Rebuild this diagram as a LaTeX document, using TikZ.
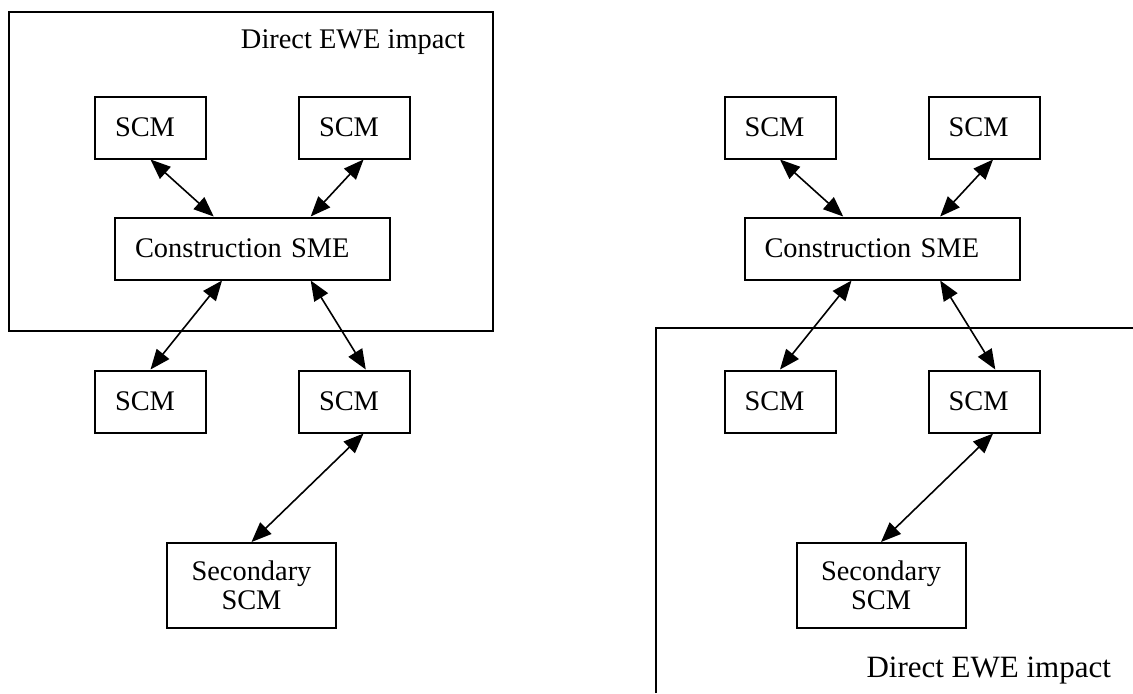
\documentclass[tikz,border=0pt]{standalone}
\usepackage{fontspec}
\setmainfont{Liberation Serif}
\usetikzlibrary{positioning, calc, arrows.meta}

\begin{document}
\begin{tikzpicture}[x=0.5pt, y=-0.5pt]
\tikzset{
    box/.style={
        draw=black,
        line width=1pt,
        inner xsep=10pt,
        inner ysep=0pt,
        minimum height=31pt,
        align=left,
        font=\fontsize{14.2}{14.5}\selectfont,
    },
    scm/.style={
        box,
        text width=35.5pt,
    },
    sme/.style={
        box,
        text width=117.5pt,
    },
    secondary/.style={
        box,
        text width=64.5pt,
        align=center,
        minimum height=42.5pt,
    },
    region/.style={
        draw=black,
        line width=1pt,
    },
    link/.style={
        <->,
        line width=0.8pt,
    },
    >={Triangle[length=10pt, width=8pt]},
}
    \useasboundingbox (0,0) rectangle (1133,693);

    % left picture
    \draw[region] (9,12) rectangle (493,331);
    \node[anchor=base east, font=\fontsize{14.2}{14.5}\selectfont] (l-label) at (472,48) {Direct EWE impact};

    \node[scm] (l-top1) at (150.5,127.5) {SCM};
    \node[scm] (l-top2) at (354.5,127.5) {SCM};
    \node[sme] (l-sme) at (252.5,248.5) {Construction SME};
    \node[scm] (l-low1) at (150.5,401.5) {SCM};
    \node[scm] (l-low2) at (354.5,401.5) {SCM};
    \node[secondary] (l-sec) at (251.5,585.5) {Secondary\\SCM};

    \draw[link] (l-top1.south) -- ($(l-sme.north west) ! .36 ! (l-sme.north east)$);
    \draw[link] ($(l-top2.south west) ! .58 ! (l-top2.south east)$) -- ($(l-sme.north west) ! .71 ! (l-sme.north east)$);
    \draw[link] ($(l-sme.south west) ! .39 ! (l-sme.south east)$) -- (l-low1.north);
    \draw[link] ($(l-sme.south west) ! .71 ! (l-sme.south east)$) -- ($(l-low2.north west) ! .6 ! (l-low2.north east)$);
    \draw[link] ($(l-low2.south west) ! .58 ! (l-low2.south east)$) -- (l-sec.north);

    % right picture
    \draw[region] (656,693) -- (656,328) -- (1133,328);
    \node[anchor=base east, font=\fontsize{15.5}{16}\selectfont] (r-label) at (1118,677) {Direct EWE impact};

    \node[scm] (r-top1) at (780,127.5) {SCM};
    \node[scm] (r-top2) at (984,127.5) {SCM};
    \node[sme] (r-sme) at (882,248.5) {Construction SME};
    \node[scm] (r-low1) at (780,401.5) {SCM};
    \node[scm] (r-low2) at (984,401.5) {SCM};
    \node[secondary] (r-sec) at (881,585.5) {Secondary\\SCM};

    \draw[link] (r-top1.south) -- ($(r-sme.north west) ! .36 ! (r-sme.north east)$);
    \draw[link] ($(r-top2.south west) ! .58 ! (r-top2.south east)$) -- ($(r-sme.north west) ! .71 ! (r-sme.north east)$);
    \draw[link] ($(r-sme.south west) ! .39 ! (r-sme.south east)$) -- (r-low1.north);
    \draw[link] ($(r-sme.south west) ! .71 ! (r-sme.south east)$) -- ($(r-low2.north west) ! .6 ! (r-low2.north east)$);
    \draw[link] ($(r-low2.south west) ! .58 ! (r-low2.south east)$) -- (r-sec.north);

\end{tikzpicture}
\end{document}
